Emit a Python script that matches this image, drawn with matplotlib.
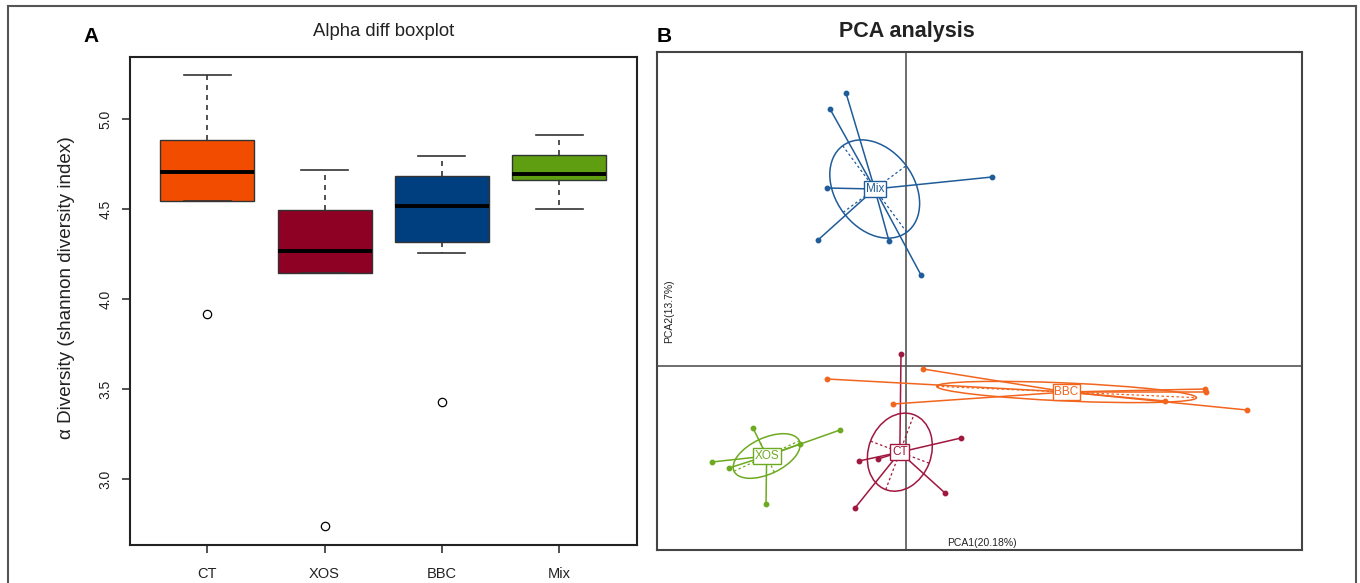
import numpy as np
import matplotlib
matplotlib.use("Agg")
import matplotlib.pyplot as plt
from matplotlib.patches import Ellipse
from matplotlib.lines import Line2D

plt.rcParams['font.family'] = ['Liberation Sans', 'DejaVu Sans']

# ---------------- Panel A data (boxplot stats) ----------------
groups = ["CT", "XOS", "BBC", "Mix"]
box_colors = ["#F24C00", "#8F0025", "#003F7F", "#5E9E10"]
q1 = [4.542, 4.143, 4.316, 4.660]
med = [4.707, 4.266, 4.516, 4.693]
q3 = [4.881, 4.492, 4.686, 4.799]
whislo = [4.542, 4.143, 4.257, 4.501]
whishi = [5.247, 4.719, 4.793, 4.914]
outliers = [[3.919], [2.736], [3.425], []]
yticks_a = [3.0, 3.5, 4.0, 4.5, 5.0]

# ---------------- Panel B data (PCA scores) ----------------
pca_groups = ["Mix", "CT", "XOS", "BBC"]
pca_colors = ["#1F5C99", "#A0173F", "#6DAA20", "#F2651E"]
mix_pc1 = [-0.60, -0.76, -0.79, 0.86, -0.88, -0.17, 0.15]
mix_pc2 = [2.73, 2.57, 1.78, 1.89, 1.26, 1.25, 0.91]
ct_pc1 = [-0.05, -0.47, -0.28, 0.55, 0.39, -0.51]
ct_pc2 = [0.12, -0.95, -0.93, -0.72, -1.27, -1.42]
xos_pc1 = [-1.53, -0.66, -1.06, -1.94, -1.77, -1.40]
xos_pc2 = [-0.62, -0.64, -0.78, -0.96, -1.02, -1.38]
bbc_pc1 = [-0.79, 0.17, -0.13, 2.99, 3.00, 2.59, 3.41]
bbc_pc2 = [-0.13, -0.03, -0.38, -0.23, -0.26, -0.35, -0.44]
# ellipse semi-axes and angle (deg) per group
ell_a = [0.538, 0.40, 0.36, 1.30]
ell_b = [0.392, 0.313, 0.18, 0.09]
ell_ang = [-53.5, 69.4, 25.0, -2.5]

fig = plt.figure(figsize=(13.6, 5.83), dpi=100)

# outer frame (open at bottom)
frame_col = "#555555"
fig.add_artist(Line2D([8/1360, 8/1360], [0, 1 - 6/583], transform=fig.transFigure, color=frame_col, lw=1.5))
fig.add_artist(Line2D([8/1360, 1356/1360], [1 - 6/583, 1 - 6/583], transform=fig.transFigure, color=frame_col, lw=1.5))
fig.add_artist(Line2D([1356/1360, 1356/1360], [0, 1 - 6/583], transform=fig.transFigure, color=frame_col, lw=1.5))

# ---------------- Panel A ----------------
axA = fig.add_axes([129.5/1360, 1 - 545/583, (637 - 129.5)/1360, (545 - 57)/583])
stats = []
for i, g in enumerate(groups):
    stats.append(dict(label=g, q1=q1[i], med=med[i], q3=q3[i],
                      whislo=whislo[i], whishi=whishi[i], fliers=outliers[i]))
bp = axA.bxp(stats, positions=[1, 2, 3, 4], widths=0.8, patch_artist=True,
             showfliers=True,
             boxprops=dict(edgecolor="#333333", linewidth=1.0),
             medianprops=dict(color="black", linewidth=2.8),
             whiskerprops=dict(color="#333333", linewidth=1.2, linestyle=(0, (3, 3))),
             capprops=dict(color="#333333", linewidth=1.2),
             capwidths=0.4,
             flierprops=dict(marker="o", markerfacecolor="none", markeredgecolor="black",
                             markersize=6, markeredgewidth=0.9))
for patch, c in zip(bp["boxes"], box_colors):
    patch.set_facecolor(c)
axA.set_xlim(0.34, 4.66)
axA.set_ylim(2.633, 5.345)
axA.set_yticks(yticks_a)
axA.set_yticklabels([f"{v:.1f}" for v in yticks_a], rotation=90, va="center", fontsize=10, color="#222222")
axA.set_xticks([1, 2, 3, 4])
axA.set_xticklabels(groups, fontsize=10.5, color="#222222")
axA.tick_params(axis="both", length=6, width=1.2, color="#333333")
axA.tick_params(axis="x", pad=10)
axA.tick_params(axis="y", pad=6)
for s in axA.spines.values():
    s.set_linewidth(1.5)
    s.set_color("#222222")
fig.text(67/1360, 1 - 288/583, "α Diversity (shannon diversity index)", rotation=90,
         ha="center", va="center", fontsize=13.6, color="#222222")
fig.text(384/1360, 1 - 32/583, "Alpha diff boxplot", ha="center", va="center", fontsize=13.3, color="#222222")
fig.text(91/1360, 1 - 37/583, "A", ha="center", va="center", fontsize=15, fontweight="bold")

# ---------------- Panel B ----------------
axB = fig.add_axes([657/1360, 1 - 549.5/583, (1302 - 657)/1360, (549.5 - 52)/583])
axB.set_xlim(-2.49, 3.96)
axB.set_ylim(-1.835, 3.14)
axB.set_xticks([])
axB.set_yticks([])
for s in axB.spines.values():
    s.set_linewidth(1.5)
    s.set_color("#444444")
axB.axhline(0, color="#555555", lw=1.2, zorder=1)
axB.axvline(0, color="#555555", lw=1.2, zorder=1)

pc1_all = [mix_pc1, ct_pc1, xos_pc1, bbc_pc1]
pc2_all = [mix_pc2, ct_pc2, xos_pc2, bbc_pc2]
for i, g in enumerate(pca_groups):
    x = np.array(pc1_all[i]); y = np.array(pc2_all[i])
    c = pca_colors[i]
    cx, cy = x.mean(), y.mean()
    for xi, yi in zip(x, y):
        axB.plot([cx, xi], [cy, yi], color=c, lw=1.1, zorder=2)
    axB.plot(x, y, "o", color=c, markersize=3.2, zorder=3)
    ang = np.deg2rad(ell_ang[i])
    e = Ellipse((cx, cy), 2*ell_a[i], 2*ell_b[i], angle=ell_ang[i], fill=False,
                edgecolor=c, lw=1.1, zorder=2)
    axB.add_patch(e)
    ux, uy = np.cos(ang), np.sin(ang)
    vx, vy = -np.sin(ang), np.cos(ang)
    axB.plot([cx - ell_a[i]*ux, cx + ell_a[i]*ux], [cy - ell_a[i]*uy, cy + ell_a[i]*uy],
             color=c, lw=0.9, ls=(0, (2, 2)), zorder=2)
    axB.plot([cx - ell_b[i]*vx, cx + ell_b[i]*vx], [cy - ell_b[i]*vy, cy + ell_b[i]*vy],
             color=c, lw=0.9, ls=(0, (2, 2)), zorder=2)
    axB.text(cx, cy, g, ha="center", va="center", fontsize=8.5, color=c, zorder=5,
             bbox=dict(boxstyle="square,pad=0.15", facecolor="white", edgecolor=c, lw=1.0))

axB.text(0.41, -1.815, "PCA1(20.18%)", fontsize=7.5, ha="left", va="bottom", color="#222222")
axB.text(-2.42, 0.55, "PCA2(13.7%)", fontsize=7.5, ha="left", va="center", rotation=90, color="#222222")
fig.text(907/1360, 1 - 32/583, "PCA analysis", ha="center", va="center", fontsize=15.5, fontweight="bold", color="#222222")
fig.text(664/1360, 1 - 37/583, "B", ha="center", va="center", fontsize=15, fontweight="bold")

fig.savefig("out.png", dpi=100)
